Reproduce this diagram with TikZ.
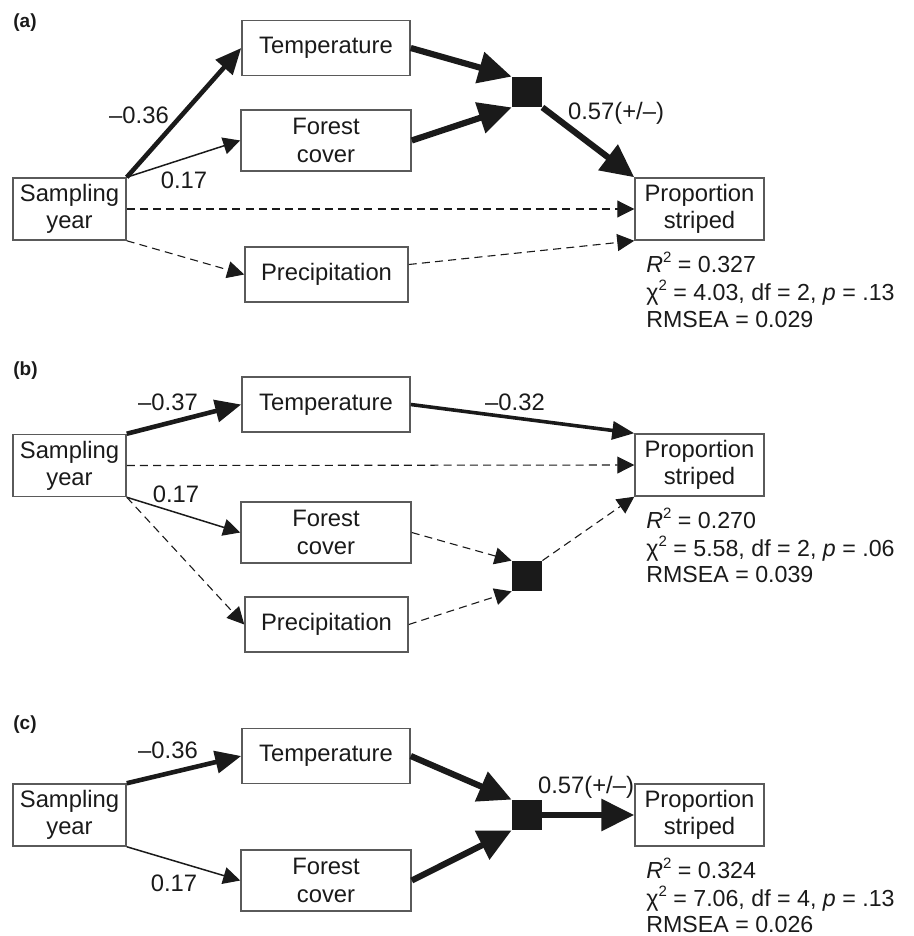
\documentclass[tikz,border=0pt]{standalone}
\usepackage{fontspec}
\setmainfont{Liberation Sans}
\usetikzlibrary{arrows.meta}
\definecolor{ink}{HTML}{1A1A1A}
\definecolor{boxline}{HTML}{5A5A5A}
\newcommand{\sqtwo}{\raisebox{0.42em}{\fontsize{7.5}{7.5}\selectfont 2}}
\begin{document}
\begin{tikzpicture}[x=0.5pt,y=-0.5pt,
  font=\fontsize{11.9}{13.6}\selectfont, text=ink,
  box/.style={draw=boxline, line width=0.75pt, inner sep=0pt, align=center},
  sq/.style={fill=ink, draw=none, minimum size=15pt, inner sep=0pt},
  lbl/.style={inner sep=0pt},
  stat/.style={anchor=base west, inner sep=0pt, font=\fontsize{11.6}{13.6}\selectfont},
  panel/.style={anchor=base west, inner sep=0pt, font=\fontsize{9.5}{11}\selectfont\bfseries},
  thinarr/.style={draw=ink, line width=0.75pt, -{Triangle[length=8.5pt,width=8.5pt]}},
  dsh/.style={draw=ink, line width=0.55pt, dash pattern=on 4pt off 2.6pt, -{Triangle[length=8.5pt,width=8.5pt]}},
  thickarr/.style={draw=ink, line width=3.1pt, -{Triangle[length=16.5pt,width=15.5pt]}},
  midarr/.style={draw=ink, line width=2.3pt, -{Triangle[length=13pt,width=11pt]}},
  medarr/.style={draw=ink, line width=1.8pt, -{Triangle[length=11pt,width=9pt]}}
]
\useasboundingbox (0,0) rectangle (914,936);

% ---------------- (a)
\node[panel] (pa) at (13,28) {(a)};
\node[box, minimum width=84pt, minimum height=27.5pt] (aT) at (326,48) {Temperature};
\node[box, minimum width=85pt, minimum height=30.5pt] (aF) at (326,140.5) {Forest\\cover};
\node[box, minimum width=56.5pt, minimum height=31pt] (aS) at (69.5,209) {Sampling\\year};
\node[box, minimum width=81.5pt, minimum height=27.5pt] (aP) at (326.5,274.5) {Precipitation};
\node[box, minimum width=64.5pt, minimum height=31pt] (aO) at (699.5,209) {Proportion\\striped};
\node[sq] (aQ) at (527,92) {};

\draw[midarr] (aS.north east) -- (aT.west);
\draw[thinarr] (aS.north east) -- (aF.west);
\draw[dsh] (aS.east) -- (aO.west);
\draw[dsh] (aS.south east) -- (aP.west);
\draw[dsh] ([yshift=5pt]aP.east) -- (aO.south west);
\draw[thickarr] (aT.east) -- (aQ.north west);
\draw[thickarr] (aF.east) -- (aQ.south west);
\draw[thickarr] (aQ.south east) -- (aO.north west);

\node[lbl] (la1) at (139,115) {–0.36};
\node[lbl] (la2) at (184,180) {0.17};
\node[lbl] (la3) at (616,113) {0.57(+/–)};
\node[stat] (sa1) at (646,272) {\textit{R}\sqtwo{} = 0.327};
\node[stat] (sa2) at (646,300) {χ\sqtwo{} = 4.03, df = 2, \textit{p} = .13};
\node[stat] (sa3) at (646,327) {RMSEA = 0.029};

% ---------------- (b)
\node[panel] (pb) at (13,375) {(b)};
\node[box, minimum width=84pt, minimum height=27.5pt] (bT) at (326,404.5) {Temperature};
\node[box, minimum width=56.5pt, minimum height=31pt] (bS) at (69.5,465.5) {Sampling\\year};
\node[box, minimum width=85pt, minimum height=30.5pt] (bF) at (326,532.5) {Forest\\cover};
\node[box, minimum width=81.5pt, minimum height=27.5pt] (bP) at (326.5,624.5) {Precipitation};
\node[box, minimum width=64.5pt, minimum height=31pt] (bO) at (699.5,465) {Proportion\\striped};
\node[sq] (bQ) at (527,576) {};

\draw[midarr] (bS.north east) -- (bT.west);
\draw[medarr] (bT.east) -- (bO.north west);
\draw[dsh] (bS.east) -- (bO.west);
\draw[thinarr] (bS.south east) -- (bF.west);
\draw[dsh] (bS.south east) -- (bP.west);
\draw[dsh] (bF.east) -- (bQ.north west);
\draw[dsh] (bP.east) -- (bQ.south west);
\draw[dsh] (bQ.north east) -- (bO.south west);

\node[lbl] (lb1) at (168,402) {–0.37};
\node[lbl] (lb2) at (515,402) {–0.32};
\node[lbl] (lb3) at (176,494) {0.17};
\node[stat] (sb1) at (646,528) {\textit{R}\sqtwo{} = 0.270};
\node[stat] (sb2) at (646,556) {χ\sqtwo{} = 5.58, df = 2, \textit{p} = .06};
\node[stat] (sb3) at (646,582) {RMSEA = 0.039};

% ---------------- (c)
\node[panel] (pc) at (13,729) {(c)};
\node[box, minimum width=84pt, minimum height=27.5pt] (cT) at (326,756) {Temperature};
\node[box, minimum width=56.5pt, minimum height=31pt] (cS) at (69.5,815) {Sampling\\year};
\node[box, minimum width=85pt, minimum height=30.5pt] (cF) at (326,880.5) {Forest\\cover};
\node[box, minimum width=64.5pt, minimum height=31pt] (cO) at (699.5,815) {Proportion\\striped};
\node[sq] (cQ) at (527,815) {};

\draw[midarr] (cS.north east) -- (cT.west);
\draw[thinarr] (cS.south east) -- (cF.west);
\draw[thickarr] (cT.east) -- (cQ.north west);
\draw[thickarr] (cF.east) -- (cQ.south west);
\draw[thickarr] (cQ.east) -- (cO.west);

\node[lbl] (lc1) at (168,750) {–0.36};
\node[lbl] (lc2) at (174,883) {0.17};
\node[lbl] (lc3) at (586,787) {0.57(+/–)};
\node[stat] (sc1) at (646,878) {\textit{R}\sqtwo{} = 0.324};
\node[stat] (sc2) at (646,906) {χ\sqtwo{} = 7.06, df = 4, \textit{p} = .13};
\node[stat] (sc3) at (646,932) {RMSEA = 0.026};
\end{tikzpicture}
\end{document}
